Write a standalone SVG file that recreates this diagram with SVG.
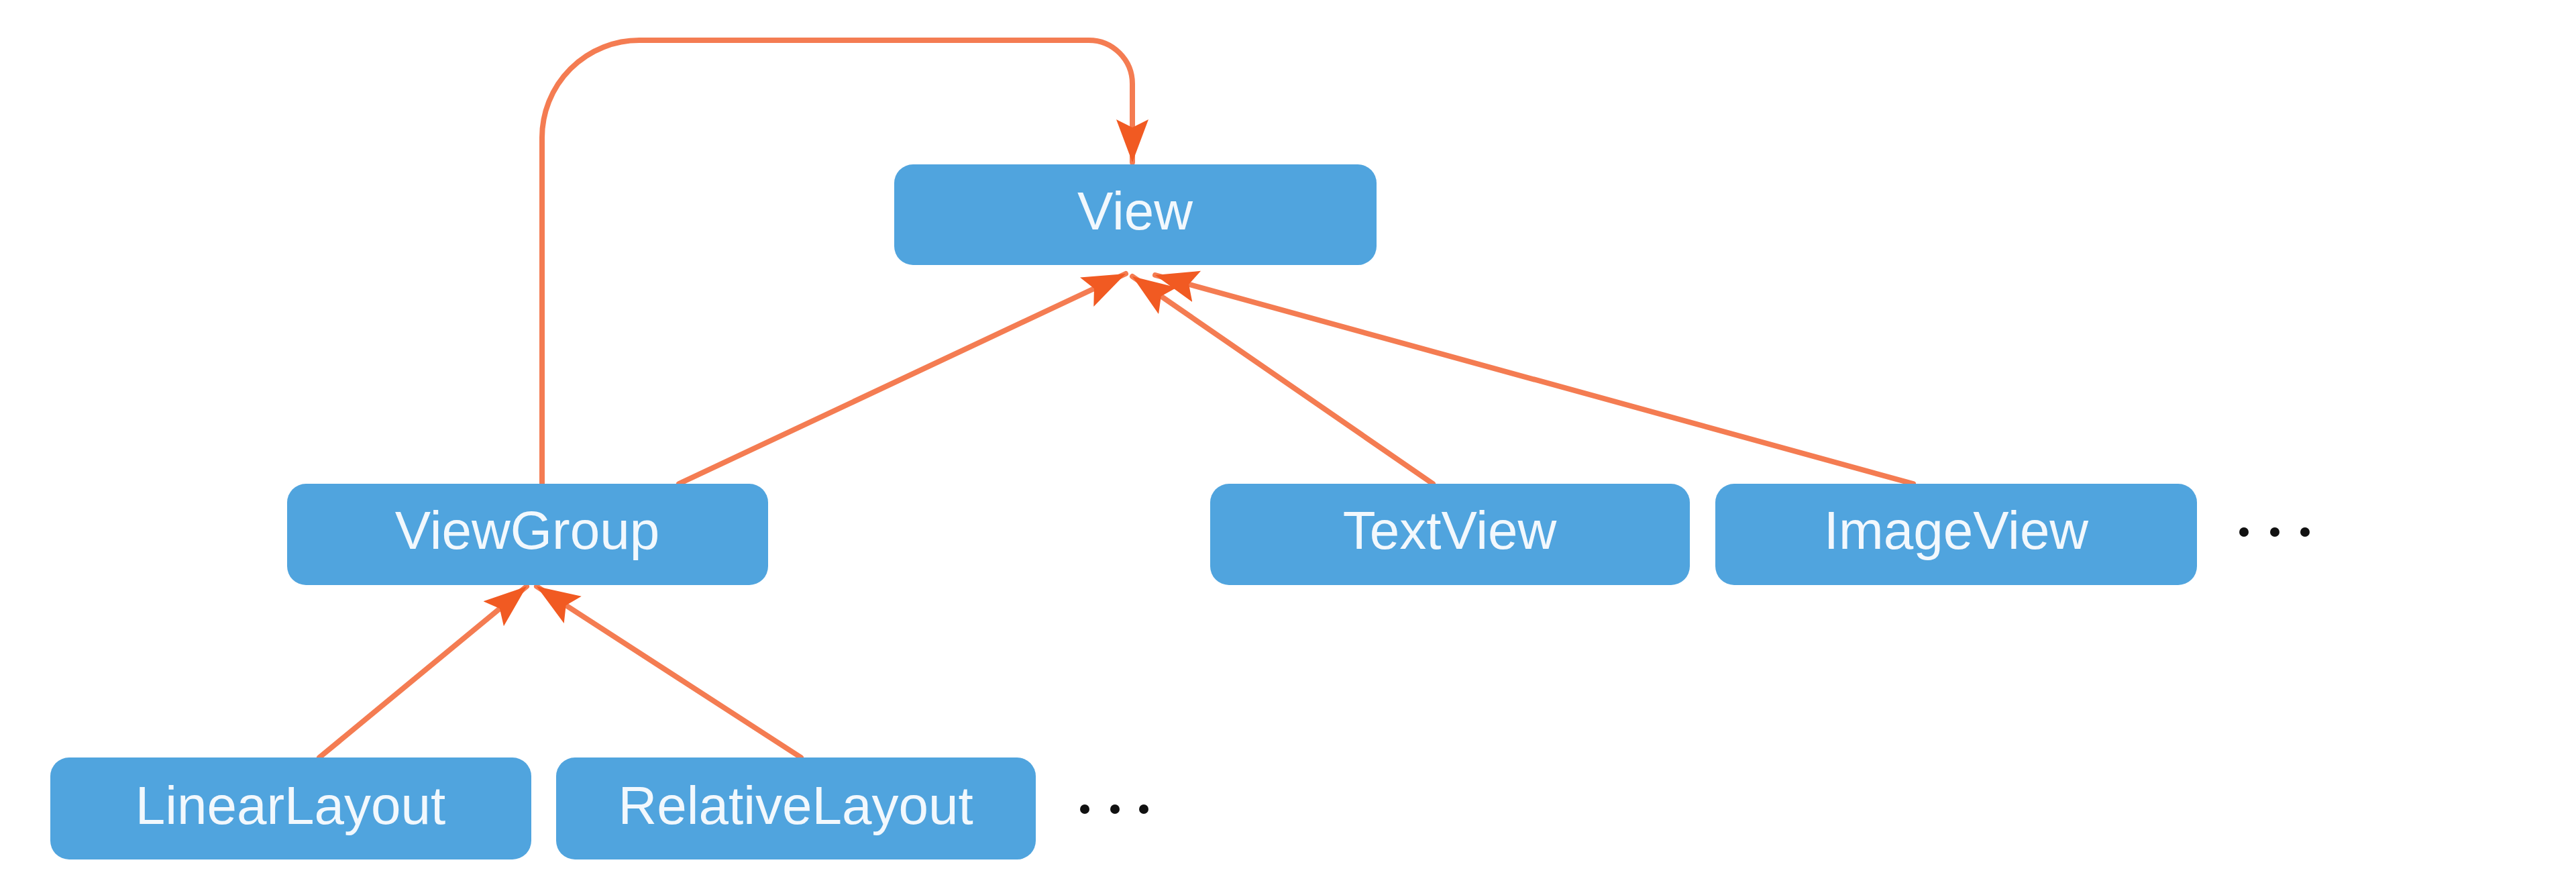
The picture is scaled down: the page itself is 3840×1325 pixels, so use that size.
<svg xmlns="http://www.w3.org/2000/svg" width="3840" height="1325" viewBox="0 0 3840 1325">
<style>
.box{fill:#50a4de;}
.lbl{font-family:"Liberation Sans",Arial,sans-serif;font-size:80px;fill:#f2f8fd;text-anchor:middle;}
.edge{fill:none;stroke:#f47c52;stroke-width:8;stroke-linecap:round;}
.dot{fill:#111;}
</style>
<defs>
<marker id="arr" markerUnits="userSpaceOnUse" markerWidth="70" markerHeight="52" refX="64" refY="24" orient="auto" viewBox="0 0 70 52">
<path d="M0,0 L64,24 L0,48 L12,24 z" fill="#f15a22"/>
</marker>
</defs>
<rect width="3840" height="1325" fill="#ffffff"/>
<g id="connectors">
<path class="edge" d="M808,721 L808,205 A145,145 0 0 1 953,60 L1623,60 A65,65 0 0 1 1688,125 L1688,242" marker-end="url(#arr)"/>
<path class="edge" d="M1012,721 L1678,408" marker-end="url(#arr)"/>
<path class="edge" d="M2136,721 L1688,412" marker-end="url(#arr)"/>
<path class="edge" d="M2852,721 L1722,410" marker-end="url(#arr)"/>
<path class="edge" d="M476,1129 L785,874" marker-end="url(#arr)"/>
<path class="edge" d="M1194,1129 L800,874" marker-end="url(#arr)"/>
</g>
<g id="node-view"><rect class="box" x="1333" y="245" width="719" height="150" rx="28"/><text class="lbl" x="1692" y="342">View</text></g>
<g id="node-viewgroup"><rect class="box" x="428" y="721" width="717" height="151" rx="28"/><text class="lbl" x="786" y="818">ViewGroup</text></g>
<g id="node-textview"><rect class="box" x="1804" y="721" width="715" height="151" rx="28"/><text class="lbl" x="2161" y="818">TextView</text></g>
<g id="node-imageview"><rect class="box" x="2557" y="721" width="718" height="151" rx="28"/><text class="lbl" x="2916" y="818">ImageView</text></g>
<g id="node-linearlayout"><rect class="box" x="75" y="1129" width="717" height="152" rx="28"/><text class="lbl" x="433" y="1228">LinearLayout</text></g>
<g id="node-relativelayout"><rect class="box" x="829" y="1129" width="715" height="152" rx="28"/><text class="lbl" x="1186" y="1228">RelativeLayout</text></g>
<g id="ellipsis-top"><circle class="dot" cx="3345" cy="793" r="7"/><circle class="dot" cx="3391" cy="793" r="7"/><circle class="dot" cx="3436" cy="793" r="7"/></g>
<g id="ellipsis-bottom"><circle class="dot" cx="1617" cy="1206" r="7"/><circle class="dot" cx="1662" cy="1206" r="7"/><circle class="dot" cx="1705" cy="1206" r="7"/></g>
</svg>
